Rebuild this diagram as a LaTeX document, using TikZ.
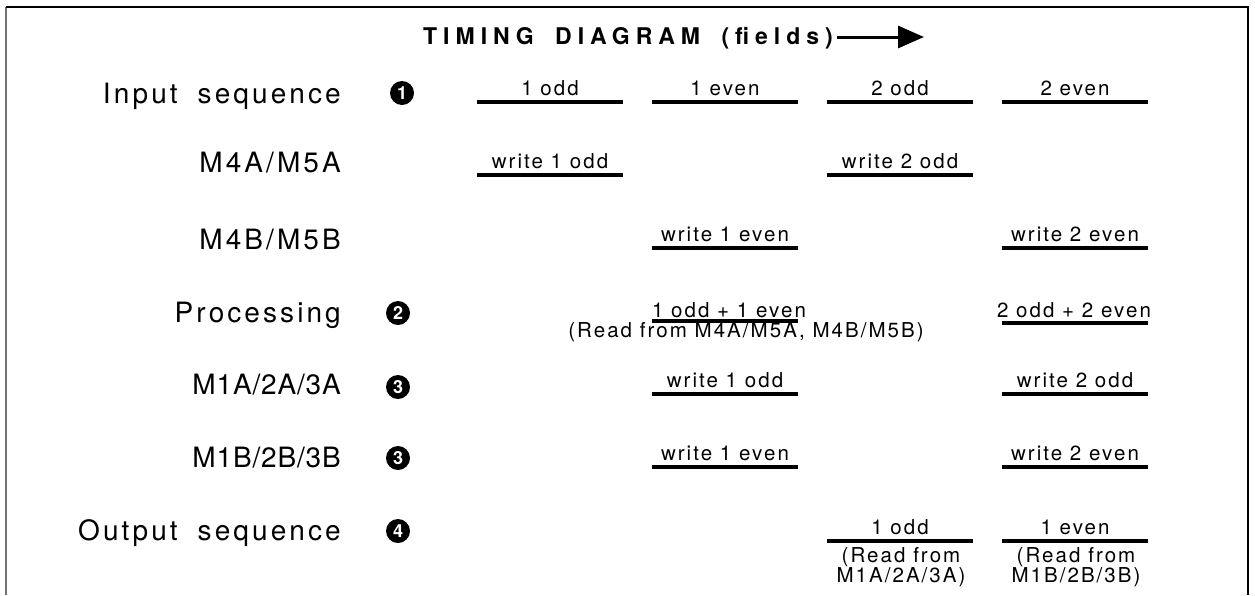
\documentclass[tikz,border=0pt]{standalone}
\usepackage{fontspec}
\setmainfont{TeX Gyre Heros}
\newfontfamily\lblfont[LetterSpace=11]{TeX Gyre Heros}
\newfontfamily\lblfontn[LetterSpace=3]{TeX Gyre Heros}
\newfontfamily\barfont[LetterSpace=10]{TeX Gyre Heros}
\newfontfamily\titlefont[LetterSpace=26]{TeX Gyre Heros}
\usetikzlibrary{arrows.meta}
\tikzset{
  tbar/.style={line width=4.3pt},
  frame/.style={line width=1.5pt},
  lbl/.style={anchor=base east, inner sep=0pt, font=\lblfont\fontsize{28}{32}\selectfont},
  lbln/.style={lbl, font=\lblfontn\fontsize{28}{32}\selectfont},
  btxt/.style={anchor=base, inner sep=0pt, font=\barfont\fontsize{20.5}{24}\selectfont},
  num/.style={circle, fill=black, text=white, minimum size=24pt, inner sep=0pt, font=\bfseries\fontsize{18}{18}\selectfont},
}
\newcommand\tmbar[4]{%
  \coordinate (#1a) at (#2,#3);
  \coordinate (#1b) at (#2+146,#3);
  \draw[tbar] (#1a) -- (#1b);
  \node[btxt] (#1t) at (#2+73,#3-7) {#4};
}
\newcommand\wsp{\hspace{20pt}}
\begin{document}
\begin{tikzpicture}[x=1pt,y=-1pt]
\useasboundingbox (0,0) rectangle (1255,595);
% frame
\coordinate (fbl) at (6,595);
\coordinate (ftl) at (6,7);
\coordinate (ftr) at (1248,7);
\coordinate (fbr) at (1248,595);
\draw[frame, black!55] (fbl) -- (ftl);
\draw[frame] (ftl) -- (ftr) -- (fbr);
% title
\node[anchor=base west, inner sep=0pt, font=\titlefont\bfseries\fontsize{23}{26}\selectfont] (title) at (423,44) {TIMING\hspace{9pt} DIAGRAM\hspace{9pt} (fields)};
\coordinate (arrowend) at (924,37);
\draw[line width=3pt, -{Triangle[length=26pt,width=22pt]}] ([xshift=4pt]title.east |- arrowend) -- (arrowend);
% row labels
\node[lbl] (l1) at (341,103) {Input\wsp sequence};
\node[lbl] (l2) at (341,172) {M4A/M5A};
\node[lbl] (l3) at (341,249) {M4B/M5B};
\node[lbl] (l4) at (341,322) {Processing};
\node[lbln] (l5) at (341,394) {M1A/2A/3A};
\node[lbln] (l6) at (341,467) {M1B/2B/3B};
\node[lbl] (l7) at (341,540) {Output\wsp sequence};
% numbers
\node[num] (n1) at (402,93) {1};
\node[num] (n2) at (398,313) {2};
\node[num] (n3a) at (398,387) {3};
\node[num] (n3b) at (398,458) {3};
\node[num] (n4) at (398,531) {4};
% input sequence
\tmbar{i1}{477}{102}{1 odd}
\tmbar{i2}{652}{102}{1 even}
\tmbar{i3}{827}{102}{2 odd}
\tmbar{i4}{1002}{102}{2 even}
% M4A/M5A
\tmbar{a1}{477}{175}{write 1 odd}
\tmbar{a3}{827}{175}{write 2 odd}
% M4B/M5B
\tmbar{b2}{652}{248}{write 1 even}
\tmbar{b4}{1002}{248}{write 2 even}
% processing
\coordinate (p2a) at (652,321); \coordinate (p2b) at (798,321);
\draw[tbar] (p2a) -- (p2b);
\node[btxt] (p2t) at (729,317) {1 odd + 1 even};
\node[btxt] (p2r) at (746,337) {(Read from M4A/M5A, M4B/M5B)};
\coordinate (p4a) at (1002,323); \coordinate (p4b) at (1148,323);
\draw[tbar] (p4a) -- (p4b);
\node[btxt] (p4t) at (1074,317) {2 odd + 2 even};
% M1A/2A/3A
\tmbar{c2}{652}{394}{write 1 odd}
\tmbar{c4}{1002}{394}{write 2 odd}
% M1B/2B/3B
\tmbar{d2}{652}{467}{write 1 even}
\tmbar{d4}{1002}{467}{write 2 even}
% output
\tmbar{o3}{827}{541}{1 odd}
\tmbar{o4}{1002}{541}{1 even}
\node[btxt, anchor=north, align=center, font=\barfont\fontsize{20.5}{18.5}\selectfont] (o3r) at (901,547) {(Read from\\M1A/2A/3A)};
\node[btxt, anchor=north, align=center, font=\barfont\fontsize{20.5}{18.5}\selectfont] (o4r) at (1076,547) {(Read from\\M1B/2B/3B)};
\end{tikzpicture}
\end{document}
